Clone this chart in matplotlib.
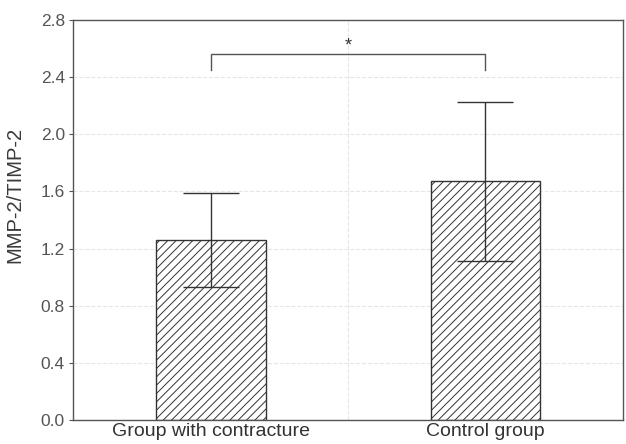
import matplotlib.pyplot as plt
import numpy as np

plt.rcParams['font.family'] = ['Liberation Sans', 'DejaVu Sans']
plt.rcParams['hatch.linewidth'] = 0.7
plt.rcParams['hatch.color'] = '#444444'

groups = ['Group with contracture', 'Control group']
means = [1.26, 1.67]
errs = [0.33, 0.555]
y_ticks = [0.0, 0.4, 0.8, 1.2, 1.6, 2.0, 2.4, 2.8]
bracket_y = 2.56
bracket_drop = 0.11
star_y = 2.632

fig = plt.figure(figsize=(6.26, 4.44), dpi=100)
ax = fig.add_axes([0.117, 0.054, 0.878, 0.901])

x = np.arange(len(groups))
ax.bar(x, means, width=0.4, color='white', edgecolor='#333333',
       linewidth=1.0, hatch='////', zorder=2)
ax.errorbar(x, means, yerr=errs, fmt='none', ecolor='#333333',
            elinewidth=1.0, capsize=20.5, capthick=1.0, zorder=3)

# significance bracket
ax.plot([0, 0, 1, 1],
        [bracket_y - bracket_drop, bracket_y, bracket_y, bracket_y - bracket_drop],
        color='#555555', lw=1.0, zorder=3)
t = ax.text(0.5, star_y, '*', ha='center', va='center_baseline',
            fontsize=13, color='#333333')

ax.set_xlim(-0.5, 1.5)
ax.set_ylim(0, 2.8)
ax.set_yticks(y_ticks)
ax.set_yticklabels(['%.1f' % v for v in y_ticks])
ax.set_xticks(x)
ax.set_xticklabels(groups)
ax.set_xticks([0.5], minor=True)
ax.tick_params(axis='x', which='both', length=0, pad=2, labelsize=14,
               colors='#333333')
ax.tick_params(axis='y', length=3, pad=3, labelsize=12.5, colors='#555555',
               labelcolor='#555555')
ax.set_ylabel('MMP-2/TIMP-2', fontsize=14.5, color='#3a3a3a')
ax.yaxis.set_label_coords(-0.088, 0.5625)

ax.grid(axis='y', color='#e6e6e6', linestyle='--', linewidth=0.8, zorder=0)
ax.grid(axis='x', which='minor', color='#e6e6e6', linestyle='--',
        linewidth=0.8, zorder=0)
ax.set_axisbelow(True)
for s in ax.spines.values():
    s.set_color('#555555')
    s.set_linewidth(1.0)

fig.savefig('out.png', dpi=100)
